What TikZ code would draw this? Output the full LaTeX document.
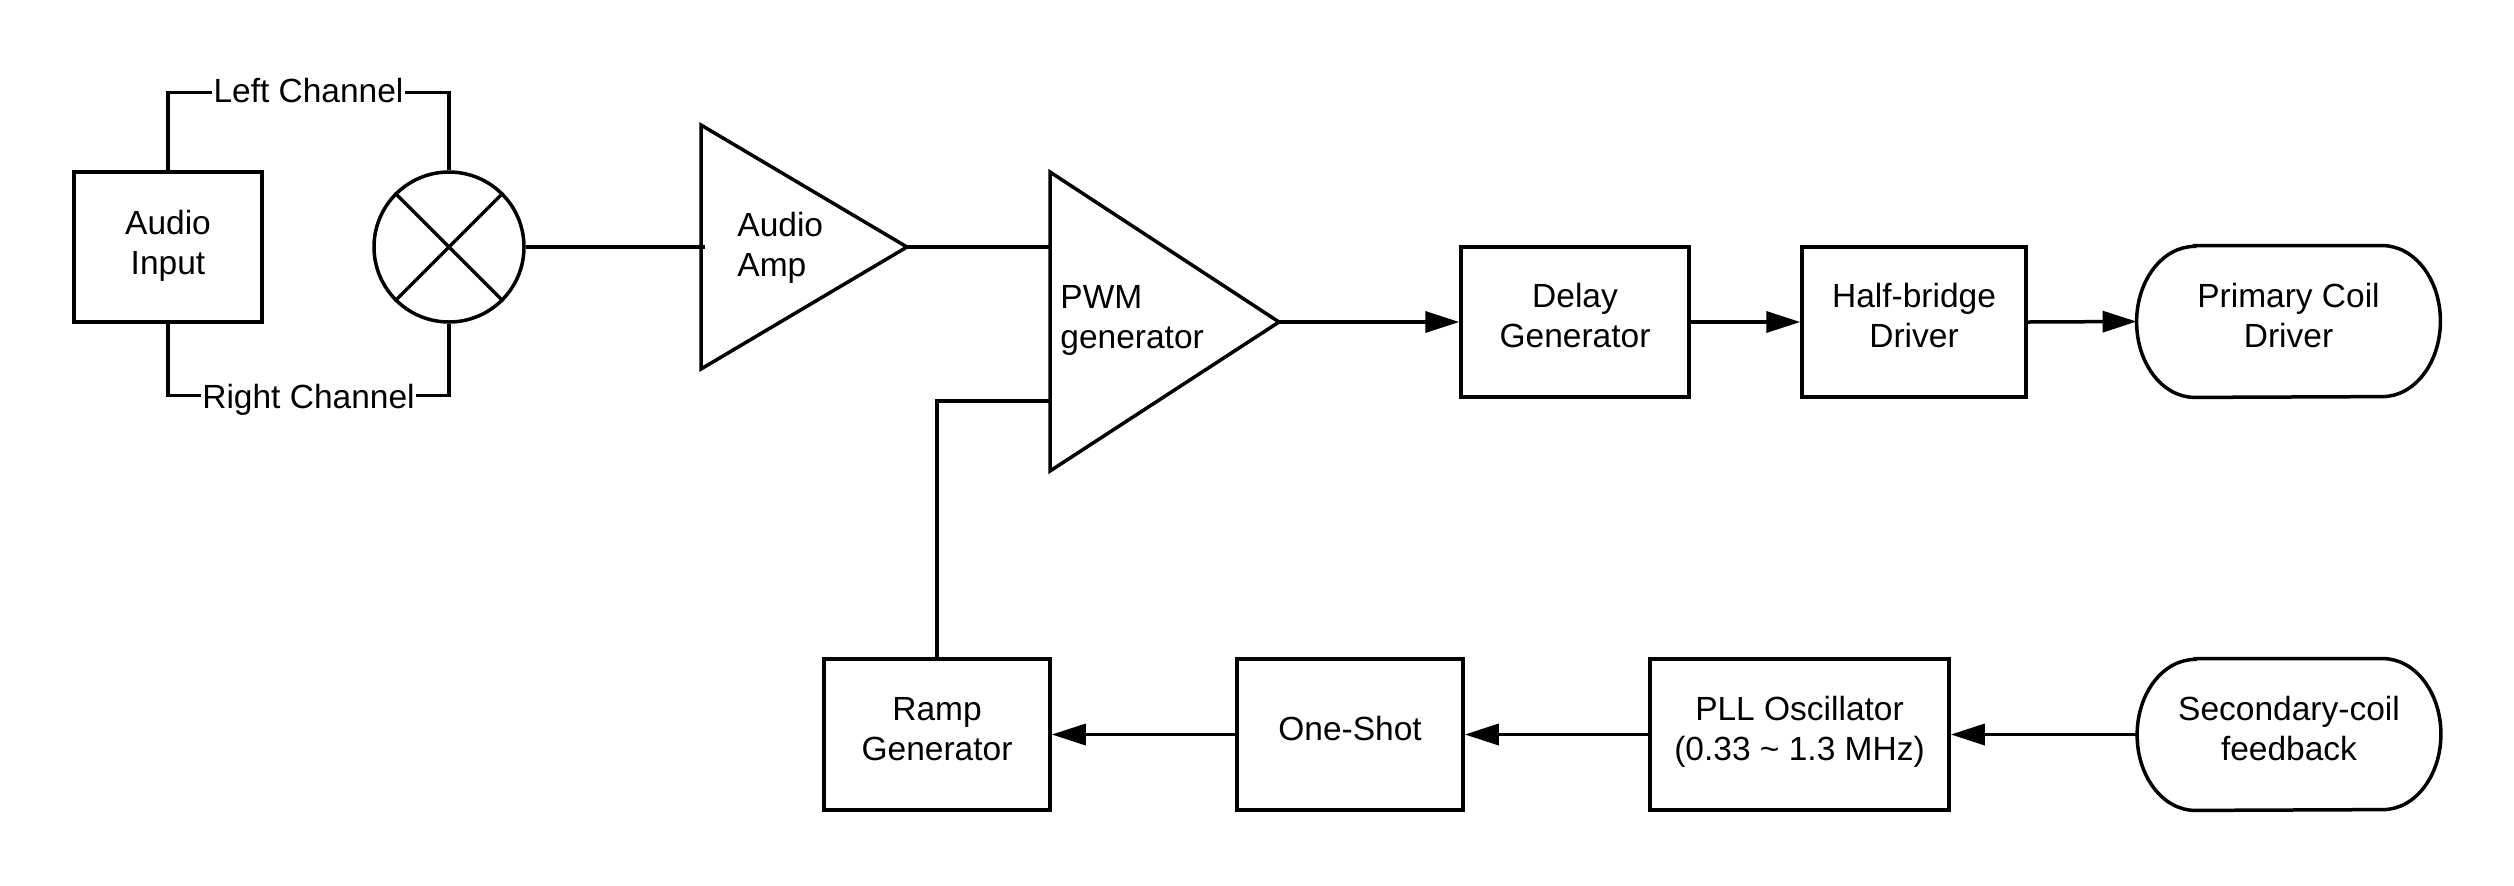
\documentclass[tikz,border=0pt]{standalone}
\usepackage{fontspec}
\setmainfont{Liberation Sans}
\usetikzlibrary{arrows.meta,calc}
\newcommand\linestrut{\rule[-7pt]{0pt}{19.5pt}}
\tikzset{
  wire/.style={line width=1.75pt, line join=miter},
  arr/.style={wire, -{Triangle[length=17pt,width=10.5pt]}},
  blk/.style={draw, line width=1.75pt, rectangle, minimum height=75pt, align=center, inner sep=0pt, font=\fontsize{16.75}{20}\selectfont},
  term/.style={rectangle, minimum height=75.5pt, minimum width=151.5pt, align=center, inner sep=0pt, font=\fontsize{16.75}{20}\selectfont},
  lbl/.style={fill=white, inner xsep=0.6pt, inner ysep=1pt, anchor=base, font=\fontsize{16.75}{20}\selectfont},
  txt/.style={anchor=west, inner sep=0pt, align=left, font=\fontsize{16.75}{20}\selectfont},
}
\begin{document}
\begin{tikzpicture}[x=0.5pt,y=-0.5pt]
\useasboundingbox (0,0) rectangle (2514,885);

% Audio input and summing junction
\node[blk, minimum width=94pt] (ai) at (168,247) {};
\node[align=center, inner sep=0pt, font=\fontsize{16.75}{20}\selectfont] (aitxt) at (168,249) {\linestrut Audio\\\linestrut Input};
\node[draw, circle, line width=1.75pt, minimum size=75pt, inner sep=0pt] (sum) at (449,247) {};
\draw[wire] (sum.45) -- (sum.225);
\draw[wire] (sum.135) -- (sum.315);

\draw[wire] (ai.north) -- ++(0,-78) -| node[pos=0.25, lbl, yshift=-5pt] {Left Channel} (sum.north);
\draw[wire] (ai.south) -- ++(0,71.5) -| node[pos=0.25, lbl, yshift=-6.75pt] {Right Channel} (sum.south);

% Audio amp triangle
\coordinate (ampT) at (701,125);
\coordinate (ampB) at (701,369);
\coordinate (ampout) at (907,247);
\coordinate (ampin) at (705,247);
\draw[wire] (ampT) -- (ampout) -- (ampB) -- cycle;
\node[txt] (amptxt) at (737,251) {\linestrut Audio\\\linestrut Amp};
\draw[wire] (sum.east) -- (ampin);

% PWM generator triangle
\coordinate (pwmT) at (1050,172);
\coordinate (pwmB) at (1050,471);
\coordinate (pwmout) at (1279,322);
\coordinate (pwmin) at (1050,247);
\coordinate (pwmramp) at (1050,401);
\draw[wire] (pwmT) -- (pwmout) -- (pwmB) -- cycle;
\node[txt] (pwmtxt) at (1060,323) {\linestrut PWM\\\linestrut generator};
\draw[wire] (ampout) -- (pwmin);

% Top row
\node[blk, minimum width=114pt] (dg) at (1575,322) {\linestrut Delay\\\linestrut Generator};
\node[blk, minimum width=112pt] (hb) at (1914,322) {\linestrut Half-bridge\\\linestrut Driver};
\node[term] (pc) at (2288.5,321.5) {\linestrut Primary Coil\\\linestrut Driver};
\draw[wire] ([xshift=29pt]pc.north west) -- ([xshift=-29pt]pc.north east)
  arc[start angle=90, end angle=-90, x radius=29pt, y radius=37.75pt]
  -- ([xshift=29pt]pc.south west)
  arc[start angle=270, end angle=90, x radius=29pt, y radius=37.75pt] -- cycle;

\draw[arr] (pwmout) -- (dg.west);
\draw[arr] (dg.east) -- (hb.west);
\draw[arr] (hb.east) -- (pc.west);

% Bottom row
\node[blk, minimum width=113pt, minimum height=75.5pt] (rg) at (937,734.5) {\linestrut Ramp\\\linestrut Generator};
\node[blk, minimum width=113pt, minimum height=75.5pt] (os) at (1350,734.5) {\linestrut One-Shot};
\node[blk, minimum width=149.5pt, minimum height=75.5pt] (pll) at (1799.5,734.5) {\linestrut PLL Oscillator\\\linestrut (0.33 \textasciitilde{} 1.3 MHz)};
\node[term] (sf) at (2289,734.5) {\linestrut Secondary-coil\\\linestrut feedback};
\draw[wire] ([xshift=29pt]sf.north west) -- ([xshift=-29pt]sf.north east)
  arc[start angle=90, end angle=-90, x radius=29pt, y radius=37.75pt]
  -- ([xshift=29pt]sf.south west)
  arc[start angle=270, end angle=90, x radius=29pt, y radius=37.75pt] -- cycle;

\draw[arr] (sf.west) -- (pll.east);
\draw[arr] (pll.west) -- (os.east);
\draw[arr] (os.west) -- (rg.east);

\draw[wire] (rg.north) |- (pwmramp);
\end{tikzpicture}
\end{document}
